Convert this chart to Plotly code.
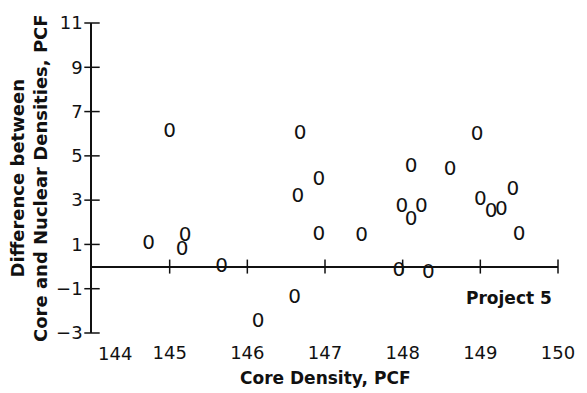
import plotly.graph_objects as go

# Data
core_density = [144.73, 145.00, 145.20, 145.16, 145.67, 146.14, 146.61, 146.65, 146.68,
                146.92, 146.92, 147.47, 147.95, 147.99, 148.11, 148.24, 148.11, 148.33,
                148.61, 148.96, 149.00, 149.14, 149.27, 149.42, 149.50]
density_diff = [1.00, 6.10, 1.36, 0.73, 0.00, -2.50, -1.40, 3.13, 6.00,
                3.93, 1.44, 1.36, -0.20, 2.69, 2.10, 2.69, 4.50, -0.28,
                4.38, 5.93, 3.00, 2.47, 2.56, 3.44, 1.44]
x_ticks = [144, 145, 146, 147, 148, 149, 150]
y_ticks = [-3, -1, 1, 3, 5, 7, 9, 11]
x_title = "Core Density, PCF"
y_title = "Difference between<br>Core and Nuclear Densities, PCF"
note = "Project 5"

FONT = "DejaVu Sans"
INK = "#111111"

fig = go.Figure()

# plotted symbols "0"
fig.add_trace(go.Scatter(
    x=core_density, y=density_diff, mode="text", text=["0"] * len(core_density),
    textposition="middle center", textfont=dict(family=FONT, size=20, color=INK),
    hoverinfo="skip", showlegend=False, cliponaxis=False))

# tick marks crossing the horizontal zero line
fig.add_trace(go.Scatter(
    x=x_ticks[1:], y=[0] * (len(x_ticks) - 1), mode="markers",
    marker=dict(symbol="line-ns", size=10, line=dict(width=1.5, color=INK)),
    hoverinfo="skip", showlegend=False, cliponaxis=False))

# tick marks crossing the vertical axis
fig.add_trace(go.Scatter(
    x=[x_ticks[0]] * len(y_ticks), y=y_ticks, mode="markers",
    marker=dict(symbol="line-ew", size=11, line=dict(width=1.5, color=INK)),
    hoverinfo="skip", showlegend=False, cliponaxis=False))

fig.update_layout(
    width=587, height=393,
    margin=dict(l=92, r=21, t=16, b=60),
    paper_bgcolor="white", plot_bgcolor="white",
    font=dict(family=FONT, size=17, color=INK),
    xaxis=dict(range=[x_ticks[0], x_ticks[-1]], tickvals=x_ticks[1:],
               ticktext=[str(v) for v in x_ticks[1:]],
               showgrid=False, zeroline=False, showline=False, ticks="",
               ticklabelstandoff=7, tickfont=dict(size=18)),
    yaxis=dict(range=[y_ticks[0], y_ticks[-1]], tickvals=y_ticks,
               ticktext=[str(v).replace("-", "\u2212") for v in y_ticks],
               showgrid=False, zeroline=True, zerolinecolor=INK, zerolinewidth=1.5,
               showline=True, linecolor=INK, linewidth=1.5, ticks="",
               ticklabelstandoff=4, tickfont=dict(size=18)),
    annotations=[
        dict(text=str(x_ticks[0]), xref="x", yref="paper", x=x_ticks[0], y=0,
             xanchor="center", yanchor="top", xshift=23, yshift=-8, showarrow=False,
             font=dict(size=18)),
        dict(text="<b>" + x_title + "</b>", xref="paper", yref="paper", x=0.5, y=0,
             xanchor="center", yanchor="middle", yshift=-45, showarrow=False,
             font=dict(size=17)),
        dict(text="<b>" + y_title + "</b>", xref="paper", yref="paper", x=0, y=0.5,
             xanchor="center", yanchor="middle", xshift=-63, textangle=-90,
             showarrow=False, font=dict(size=18)),
        dict(text="<b>" + note + "</b>", xref="paper", yref="paper", x=0.9916, y=0.1136,
             xanchor="right", yanchor="middle", showarrow=False, font=dict(size=17)),
    ],
)

fig.write_html("out.html")
